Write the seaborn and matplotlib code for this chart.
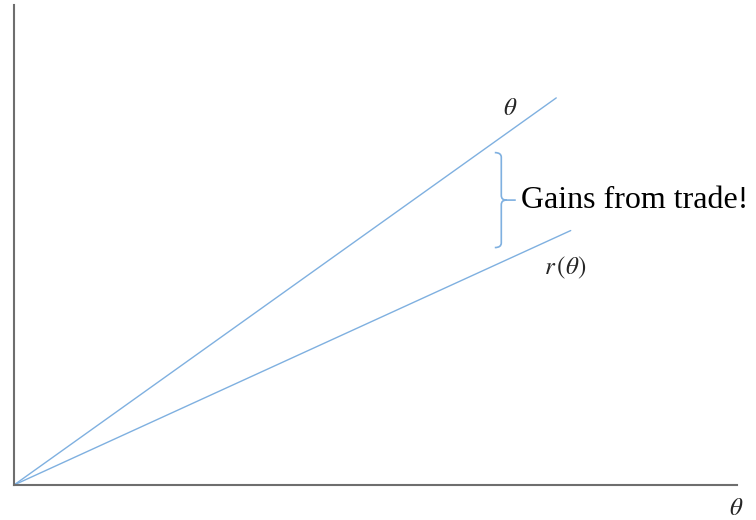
import matplotlib
matplotlib.use("Agg")
import matplotlib.pyplot as plt
from matplotlib.path import Path
from matplotlib.patches import PathPatch
import seaborn as sns
import pandas as pd

# Two lines through the origin: the value theta and the return r(theta)
theta_x = [0.0, 7.5]
theta_y = [0.0, 7.5]
r_x = [0.0, 7.7]
r_y = [0.0, 4.93]

# Bracket spanning the gap between the lines
brace_x = 6.74
brace_top = 6.44
brace_bottom = 4.60
gain_label = "Gains from trade!"

line_color = "#7fb0e0"
axis_color = "#6e6e6e"

sns.set_theme(style="white")
plt.rcParams["mathtext.fontset"] = "stix"

fig = plt.figure(figsize=(7.56, 5.2), dpi=100)
ax = fig.add_axes([14 / 756, 35 / 520, 723 / 756, 480 / 520])

df = pd.concat([
    pd.DataFrame({"x": theta_x, "y": theta_y, "curve": "theta"}),
    pd.DataFrame({"x": r_x, "y": r_y, "curve": "r"}),
])
sns.lineplot(data=df, x="x", y="y", hue="curve", palette=[line_color, line_color],
             linewidth=1.0, legend=False, ax=ax, sort=False)

ax.set_xlim(0, 10)
ax.set_ylim(0, 9.3)
ax.set_xticks([])
ax.set_yticks([])
ax.set_xlabel("")
ax.set_ylabel("")
for side in ("top", "right"):
    ax.spines[side].set_visible(False)
for side in ("left", "bottom"):
    ax.spines[side].set_color(axis_color)
    ax.spines[side].set_linewidth(1.5)

# Curly brace
mid = (brace_top + brace_bottom) / 2
hx, ry, tip, tail = 0.09, 0.09, 0.07, 0.20
verts = [
    (brace_x - hx, brace_top), (brace_x, brace_top), (brace_x, brace_top - ry),
    (brace_x, mid + ry), (brace_x, mid), (brace_x + tip, mid),
    (brace_x + tail, mid),
    (brace_x + tip, mid), (brace_x, mid), (brace_x, mid - ry),
    (brace_x, brace_bottom + ry), (brace_x, brace_bottom), (brace_x - hx, brace_bottom),
]
codes = [
    Path.MOVETO, Path.CURVE3, Path.CURVE3,
    Path.LINETO, Path.CURVE3, Path.CURVE3,
    Path.LINETO,
    Path.MOVETO, Path.CURVE3, Path.CURVE3,
    Path.LINETO, Path.CURVE3, Path.CURVE3,
]
ax.add_patch(PathPatch(Path(verts, codes), facecolor="none", edgecolor=line_color, lw=1.2))

ax.text(brace_x + 0.27, mid, gain_label, family="Liberation Serif", fontsize=23,
        ha="left", va="center", color="black")
ax.text(6.86, 7.31, r"$\theta$", fontsize=18, ha="center", va="center")
ax.text(7.62, 4.2, r"$r\,(\theta)$", fontsize=18, ha="center", va="center")
ax.text(9.99, -0.45, r"$\theta$", fontsize=18, ha="center", va="center", clip_on=False)

fig.savefig("out.png", dpi=100)
